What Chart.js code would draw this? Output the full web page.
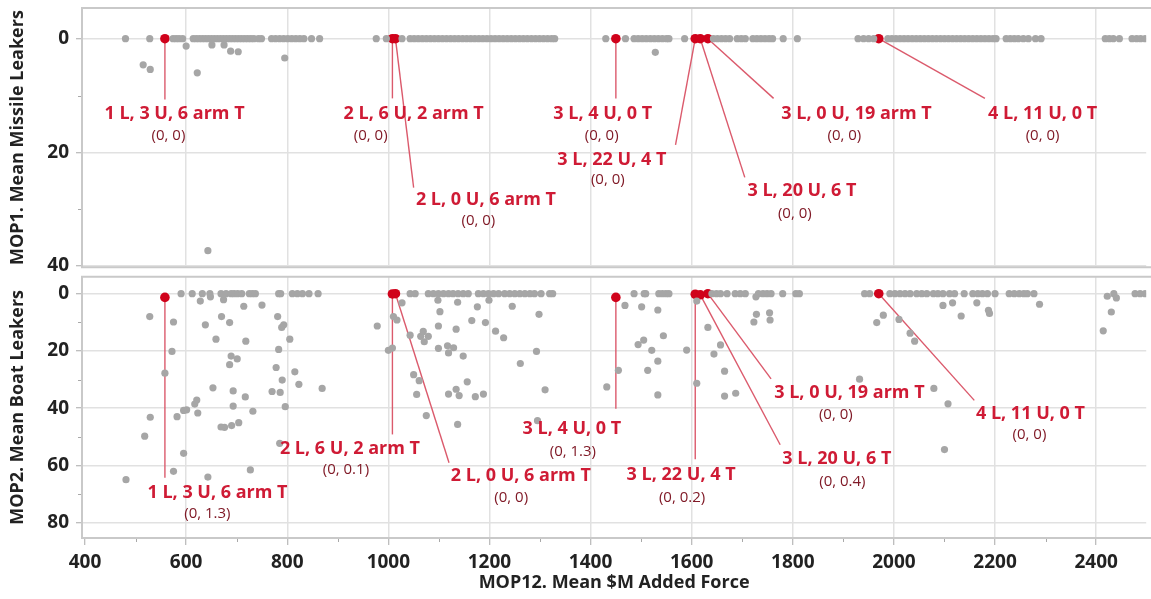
<!DOCTYPE html>
<html>
<head>
<meta charset="utf-8">
<title>Leakers vs added force cost</title>
<script src="https://cdn.jsdelivr.net/npm/chart.js@4.4.1/dist/chart.umd.min.js"></script>
<style>
  html, body { margin: 0; padding: 0; background: #fff; }
  #wrap { position: relative; width: 1151px; height: 599px; overflow: hidden; }
  .panel { position: absolute; left: 0; width: 1151px; }
  #topBox { top: 0; height: 272px; }
  #bottomBox { top: 272px; height: 327px; }
</style>
</head>
<body>
<div id="wrap">
  <div class="panel" id="topBox"><canvas id="missileChart"></canvas></div>
  <div class="panel" id="bottomBox"><canvas id="boatChart"></canvas></div>
</div>
<script>
// ---- data -------------------------------------------------------------

// highlighted force designs
const designNames = ['1 L, 3 U, 6 arm T', '2 L, 6 U, 2 arm T', '2 L, 0 U, 6 arm T', '3 L, 4 U, 0 T',
                     '3 L, 22 U, 4 T', '3 L, 20 U, 6 T', '3 L, 0 U, 19 arm T', '4 L, 11 U, 0 T'];
const designCost    = [558, 1008, 1014, 1450, 1607, 1617, 1632, 1970];
const designMissile = [0, 0, 0, 0, 0, 0, 0, 0];
const designBoat    = [1.3, 0.1, 0, 1.3, 0.2, 0.4, 0, 0];

// all other designs, MOP1 panel
const missileCost = [
  480, 528, 574, 580, 586, 593, 614, 620, 626, 632,
  638, 644, 650, 656, 662, 668, 674, 680, 686, 692,
  698, 704, 710, 716, 722, 728, 734, 743, 749, 769,
  777, 785, 793, 801, 809, 817, 825, 833, 848, 864,
  515, 529, 600, 622, 651, 675, 688, 703, 795, 643,
  976, 996, 1027, 1043, 1051, 1059, 1067, 1075, 1083, 1091,
  1099, 1107, 1115, 1123, 1131, 1139, 1147, 1155, 1163, 1171,
  1179, 1187, 1195, 1203, 1211, 1219, 1227, 1235, 1243, 1251,
  1259, 1267, 1275, 1283, 1291, 1299, 1307, 1315, 1323, 1329,
  1430, 1469, 1486, 1494, 1502, 1510, 1518, 1526, 1534, 1542,
  1550, 1555, 1586, 1643, 1651, 1659, 1667, 1675, 1690, 1698,
  1706, 1721, 1729, 1737, 1745, 1753, 1760, 1781, 1809, 1528,
  1929, 1940, 1950, 1960, 1988, 1996, 2004, 2012, 2020, 2028,
  2036, 2044, 2052, 2060, 2068, 2076, 2084, 2092, 2100, 2108,
  2116, 2124, 2132, 2140, 2148, 2156, 2164, 2172, 2180, 2188,
  2196, 2202, 2222, 2230, 2238, 2246, 2256, 2266, 2280, 2291,
  2418, 2426, 2434, 2446, 2471, 2480, 2488, 2497
];
const missileLeakers = [
  0, 0, 0, 0, 0, 0, 0, 0, 0, 0,
  0, 0, 0, 0, 0, 0, 0, 0, 0, 0,
  0, 0, 0, 0, 0, 0, 0, 0, 0, 0,
  0, 0, 0, 0, 0, 0, 0, 0, 0, 0,
  4.6, 5.4, 1.3, 6.0, 1.1, 1.1, 2.2, 2.3, 3.4, 37.3,
  0, 0, 0, 0, 0, 0, 0, 0, 0, 0,
  0, 0, 0, 0, 0, 0, 0, 0, 0, 0,
  0, 0, 0, 0, 0, 0, 0, 0, 0, 0,
  0, 0, 0, 0, 0, 0, 0, 0, 0, 0,
  0, 0, 0, 0, 0, 0, 0, 0, 0, 0,
  0, 0, 0, 0, 0, 0, 0, 0, 0, 0,
  0, 0, 0, 0, 0, 0, 0, 0, 0, 2.4,
  0, 0, 0, 0, 0, 0, 0, 0, 0, 0,
  0, 0, 0, 0, 0, 0, 0, 0, 0, 0,
  0, 0, 0, 0, 0, 0, 0, 0, 0, 0,
  0, 0, 0, 0, 0, 0, 0, 0, 0, 0,
  0, 0, 0, 0, 0, 0, 0, 0
];

// all other designs, MOP2 panel
const boatCost = [
  590, 612, 632, 647, 669, 679, 689, 695, 702, 710,
  725, 731, 737, 783, 787, 810, 820, 830, 843, 861,
  628, 648, 674, 714, 750, 528, 575, 638, 670, 686,
  781, 789, 793, 659, 718, 805, 572, 783, 689, 701,
  686, 558, 778, 815, 790, 823, 653, 693, 717, 770,
  786, 869, 621, 617, 601, 595, 582, 693, 732, 796,
  623, 529, 704, 690, 676, 669, 518, 595, 785, 575,
  727, 643, 481,
  1043, 1053, 1079, 1089, 1099, 1109, 1119, 1128, 1138, 1148,
  1158, 1178, 1188, 1198, 1208, 1218, 1230, 1240, 1250, 1260,
  1270, 1280, 1289, 1302, 1319, 1325,
  978, 1027, 1098, 1137, 1176, 1199, 1245, 1010, 1017, 1102,
  1165, 1192, 1099, 1134, 1298, 1043, 1064, 1069, 1079, 1071,
  1212, 1228, 1000, 1008, 1099, 1117, 1119, 1129, 1148, 1293,
  1261, 1050, 1061, 1156, 1310, 1056, 1119, 1134, 1140, 1172,
  1188, 1075, 1137, 1295,
  1486, 1506, 1509, 1535, 1542, 1549, 1555, 1640, 1649, 1657,
  1670, 1686, 1696, 1706, 1732, 1741, 1749, 1757, 1780, 1806,
  1813,
  1432, 1455, 1468, 1501, 1533, 1544, 1494, 1505, 1521, 1533,
  1513, 1533, 1610, 1632, 1590, 1657, 1644, 1665, 1610, 1665,
  1687, 1728, 1723, 1754, 1755, 1727,
  1942, 1952, 1992, 2002, 2012, 2022, 2032, 2045, 2055, 2065,
  2078, 2087, 2097, 2110, 2120, 2139, 2156, 2166, 2175, 2185,
  2200, 2228, 2238, 2248, 2257, 2264, 2277,
  1966, 1979, 2010, 2032, 2041, 1932, 2079, 2107, 2100, 2097,
  2116, 2133, 2164, 2187, 2189, 2288,
  2414, 2430, 2422, 2435, 2440, 2477, 2487, 2497
];
const boatLeakers = [
  0, 0, 0, 0, 0, 0, 0, 0, 0, 0,
  0, 0, 0, 0, 0, 0, 0, 0, 0, 0,
  2.6, 1.1, 2.1, 4.4, 4.0, 8.0, 9.9, 10.9, 8.0, 10.1,
  8.0, 11.8, 10.9, 15.9, 16.6, 15.9, 20.2, 19.5, 21.8, 22.8,
  24.8, 27.8, 25.8, 27.3, 30.2, 31.7, 32.9, 34.0, 36.1, 34.2,
  34.5, 33.1, 37.2, 38.6, 40.6, 40.8, 43.0, 39.3, 41.1, 39.5,
  41.7, 43.2, 45.1, 46.1, 46.7, 46.6, 49.8, 55.8, 52.3, 62.1,
  61.6, 64.1, 65.0,
  0, 0, 0, 0, 0, 0, 0, 0, 0, 0,
  0, 0, 0, 0, 0, 0, 0, 0, 0, 0,
  0, 0, 0, 0, 0, 0,
  11.3, 3.2, 2.3, 3.0, 4.6, 2.3, 4.4, 8.0, 9.2, 6.3,
  9.4, 10.1, 11.3, 12.4, 7.2, 14.5, 14.9, 13.2, 14.9, 16.8,
  13.1, 15.4, 19.8, 19.0, 19.1, 18.2, 20.7, 18.9, 21.8, 20.2,
  24.4, 28.3, 30.4, 30.8, 33.6, 35.2, 35.1, 33.4, 35.6, 36.0,
  35.1, 42.6, 45.7, 44.4,
  0, 0, 0, 0, 0, 0, 0, 0, 0, 0,
  0, 0, 0, 0, 0, 0, 0, 0, 0, 0,
  0,
  32.6, 26.8, 4.1, 4.6, 5.7, 14.7, 17.8, 16.2, 19.8, 23.6,
  26.8, 35.4, 2.6, 11.8, 19.7, 17.9, 21.1, 27.1, 31.3, 35.8,
  34.8, 7.2, 9.9, 6.7, 9.2, 1.1,
  0, 0, 0, 0, 0, 0, 0, 0, 0, 0,
  0, 0, 0, 0, 0, 0, 0, 0, 0, 0,
  0, 0, 0, 0, 0, 0, 0,
  10.1, 7.5, 9.0, 13.8, 16.6, 29.9, 33.1, 38.5, 54.5, 4.1,
  3.2, 7.8, 3.2, 5.8, 6.9, 3.7,
  13.0, 6.4, 0.9, 0, 1.5, 0, 0, 0
];

// axis ticks
const costTicks      = [400, 600, 800, 1000, 1200, 1400, 1600, 1800, 2000, 2200, 2400];
const costMinor      = [500, 700, 900, 1100, 1300, 1500, 1700, 1900, 2100, 2300];
const missileTicks   = [0, 20, 40];
const missileMinor   = [10, 30];
const boatTicks      = [0, 20, 40, 60, 80];
const boatMinor      = [10, 30, 50, 70];

// ---- callout placement (data units: [cost, leakers]) ------------------
const missileCallouts = [
  { end: [558, 10.7],  main: [577, 13.2],  sub: [565, 17.0] },
  { end: [1008, 10.5], main: [1050, 13.2], sub: [965, 17.0] },
  { end: [1050, 26.2], main: [1193, 28.4], sub: [1178, 32.0] },
  { end: [1450, 10.5], main: [1424, 13.2], sub: [1422, 17.0] },
  { end: [1568, 18.7], main: [1442, 21.3], sub: [1434, 24.8] },
  { end: [1705, 24.4], main: [1818, 26.8], sub: [1804, 30.8] },
  { end: [1762, 10.5], main: [1926, 13.2], sub: [1902, 17.0] },
  { end: [2180, 10.5], main: [2294, 13.2], sub: [2294, 17.0] }
];
const boatCallouts = [
  { end: [558, 64.3],  main: [662, 69.7],  sub: [642, 76.9] },
  { end: [1008, 49.2], main: [924, 54.3],  sub: [916, 61.4] },
  { end: [1120, 59.1], main: [1262, 63.7], sub: [1243, 71.2] },
  { end: [1450, 40.2], main: [1363, 47.3], sub: [1365, 55.1] },
  { end: [1607, 57.9], main: [1579, 63.4], sub: [1581, 71.2] },
  { end: [1775, 52.8], main: [1887, 57.7], sub: [1898, 65.7] },
  { end: [1757, 29.8], main: [1912, 34.7], sub: [1885, 42.4] },
  { end: [2159, 37.3], main: [2270, 41.9], sub: [2268, 49.3] }
];

// ---- styling ----------------------------------------------------------
Chart.defaults.font.family = '"Open Sans", "DejaVu Sans", sans-serif';
Chart.defaults.color = '#222';

const GRID = '#e1e1e1';
const FRAME = '#c9c9c9';
const TICK = '#a9a9a9';
const GRAY_DOT = '#a6a6a6';
const RED_DOT = '#d0021b';
const LABEL_RED = '#cf1b35';
const SUB_RED = '#801a27';
const LEADER = '#db5a6c';

function toPoints(xs, ys) {
  const pts = [];
  const n = Math.min(xs.length, ys.length);
  for (let i = 0; i < n; i++) pts.push({ x: xs[i], y: ys[i] });
  return pts;
}

// frame, minor ticks, leader lines and callout text
const panelDecor = {
  id: 'panelDecor',
  beforeDatasetsDraw(chart, args, opts) {
    const { ctx, scales: { x, y } } = chart;
    ctx.save();
    ctx.strokeStyle = LEADER;
    ctx.lineWidth = 1.4;
    opts.callouts.forEach((c, i) => {
      ctx.beginPath();
      ctx.moveTo(x.getPixelForValue(designCost[i]), y.getPixelForValue(opts.values[i]));
      ctx.lineTo(x.getPixelForValue(c.end[0]), y.getPixelForValue(c.end[1]));
      ctx.stroke();
    });
    ctx.restore();
  },
  afterDatasetsDraw(chart, args, opts) {
    const { ctx, scales: { x, y } } = chart;
    ctx.save();
    ctx.textAlign = 'center';
    ctx.textBaseline = 'middle';
    opts.callouts.forEach((c, i) => {
      ctx.font = 'bold 18px "Open Sans", sans-serif';
      ctx.fillStyle = LABEL_RED;
      ctx.fillText(designNames[i], x.getPixelForValue(c.main[0]), y.getPixelForValue(c.main[1]));
      ctx.font = '15px "Open Sans", sans-serif';
      ctx.fillStyle = SUB_RED;
      ctx.fillText('(0, ' + opts.values[i] + ')',
        x.getPixelForValue(c.sub[0]), y.getPixelForValue(c.sub[1]));
    });
    ctx.restore();
  },
  afterDraw(chart, args, opts) {
    const { ctx, chartArea: a, scales: { x, y } } = chart;
    ctx.save();
    ctx.strokeStyle = FRAME;
    ctx.lineWidth = 2;
    ctx.beginPath();
    ctx.moveTo(chart.width, a.top);
    ctx.lineTo(a.left, a.top);
    ctx.lineTo(a.left, a.bottom);
    ctx.lineTo(chart.width, a.bottom);
    ctx.stroke();

    ctx.strokeStyle = TICK;
    ctx.lineWidth = 1;
    opts.yMinor.forEach(v => {
      const py = Math.round(y.getPixelForValue(v)) + 0.5;
      ctx.beginPath();
      ctx.moveTo(a.left - 4, py);
      ctx.lineTo(a.left - 1, py);
      ctx.stroke();
    });
    if (opts.xMinor) {
      opts.xMinor.forEach(v => {
        const px = Math.round(x.getPixelForValue(v)) + 0.5;
        ctx.beginPath();
        ctx.moveTo(px, a.bottom + 1);
        ctx.lineTo(px, a.bottom + 4);
        ctx.stroke();
      });
    }
    ctx.restore();
  }
};

function makePanel(canvasId, cfg) {
  return new Chart(document.getElementById(canvasId), {
    type: 'scatter',
    data: {
      datasets: [
        {
          data: toPoints(cfg.cost, cfg.leakers),
          backgroundColor: GRAY_DOT,
          borderWidth: 0,
          pointRadius: 3.6
        },
        {
          data: toPoints(designCost, cfg.values),
          backgroundColor: RED_DOT,
          borderWidth: 0,
          pointRadius: 4.8
        }
      ]
    },
    options: {
      responsive: true,
      maintainAspectRatio: false,
      animation: false,
      layout: { padding: { top: cfg.padTop, left: 0, right: 0, bottom: 0 } },
      plugins: {
        legend: { display: false },
        tooltip: { enabled: false },
        panelDecor: { callouts: cfg.callouts, values: cfg.values, yMinor: cfg.yMinor, xMinor: cfg.xMinor }
      },
      scales: {
        x: {
          type: 'linear',
          min: 394,
          max: 2499,
          afterBuildTicks: s => { s.ticks = costTicks.map(v => ({ value: v })); },
          afterFit: s => {
            s.height = cfg.showX ? 61 : 1;
            s.paddingLeft = 0;
            s.paddingRight = 0;
          },
          border: { display: false },
          grid: {
            color: c => (c.tick && c.tick.value === 400) ? 'rgba(0,0,0,0)' : GRID,
            lineWidth: 1.5,
            drawTicks: cfg.showX,
            tickLength: 7,
            tickColor: TICK,
            tickWidth: 1
          },
          ticks: {
            display: cfg.showX,
            padding: 6,
            maxRotation: 0,
            callback: v => String(v),
            font: { size: 19, weight: 'bold' },
            color: '#222'
          },
          title: {
            display: cfg.showX,
            text: 'MOP12. Mean $M Added Force',
            font: { size: 18, weight: 'bold' },
            color: '#222',
            padding: { top: 0, bottom: 5 }
          }
        },
        y: {
          type: 'linear',
          reverse: true,
          min: cfg.yMin,
          max: cfg.yMax,
          afterBuildTicks: s => { s.ticks = cfg.yTicks.map(v => ({ value: v })); },
          afterFit: s => {
            s.width = 82;
            s.paddingTop = 0;
            s.paddingBottom = 0;
          },
          border: { display: false },
          grid: {
            color: GRID,
            lineWidth: 1.5,
            drawTicks: true,
            tickLength: 6,
            tickColor: TICK,
            tickWidth: 1
          },
          ticks: {
            padding: 7,
            callback: v => String(v),
            font: { size: 19, weight: 'bold' },
            color: '#222'
          },
          title: {
            display: true,
            text: cfg.title,
            font: { size: 18, weight: 'bold' },
            color: '#222',
            padding: { top: 7, bottom: 0 }
          }
        }
      }
    },
    plugins: [panelDecor]
  });
}

makePanel('missileChart', {
  cost: missileCost, leakers: missileLeakers, values: designMissile,
  callouts: missileCallouts, yTicks: missileTicks, yMinor: missileMinor, xMinor: null,
  yMin: -5.4, yMax: 40.2, padTop: 8, showX: false,
  title: 'MOP1. Mean Missile Leakers'
});

makePanel('boatChart', {
  cost: boatCost, leakers: boatLeakers, values: designBoat,
  callouts: boatCallouts, yTicks: boatTicks, yMinor: boatMinor, xMinor: costMinor,
  yMin: -5.9, yMax: 85.4, padTop: 1, showX: true,
  title: 'MOP2. Mean Boat Leakers'
});
</script>
</body>
</html>
